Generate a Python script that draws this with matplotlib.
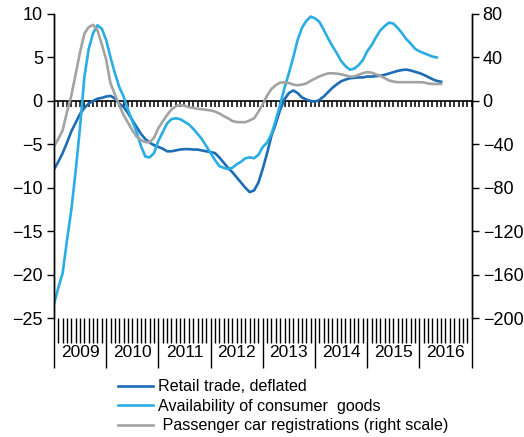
import numpy as np
import matplotlib
matplotlib.use("Agg")
import matplotlib.pyplot as plt
import matplotlib.transforms as mtransforms

plt.rcParams['font.family'] = ['Liberation Sans', 'DejaVu Sans']

years = [2009, 2010, 2011, 2012, 2013, 2014, 2015, 2016]

# monthly values, starting January 2009
retail = [-7.9, -7.0, -6.0, -4.8, -3.5, -2.5, -1.5, -0.8, -0.3, 0.0, 0.25, 0.35,
          0.5, 0.57, 0.3, -0.3, -0.7, -1.4, -2.2, -3.0, -3.8, -4.4, -4.8, -5.1,
          -5.3, -5.5, -5.8, -5.8, -5.7, -5.6, -5.55, -5.55, -5.6, -5.6, -5.7, -5.8,
          -5.9, -6.0, -6.5, -7.1, -7.7, -8.2, -8.8, -9.4, -10.0, -10.5, -10.3, -9.4,
          -7.8, -6.0, -4.0, -2.6, -1.0, 0.2, 0.9, 1.2, 0.9, 0.4, 0.15, 0.0,
          -0.1, 0.1, 0.5, 1.0, 1.5, 1.9, 2.25, 2.45, 2.6, 2.65, 2.7, 2.7,
          2.8, 2.8, 2.85, 2.9, 3.0, 3.15, 3.3, 3.45, 3.55, 3.6, 3.5, 3.35,
          3.2, 3.0, 2.75, 2.5, 2.3, 2.2]

availability = [-23.4, -21.5, -19.8, -16.0, -12.5, -8.0, -3.0, 2.8, 6.0, 7.8, 8.7, 8.3,
                7.0, 5.0, 3.2, 1.6, 0.5, -1.0, -2.3, -3.6, -5.2, -6.4, -6.5, -6.0,
                -4.6, -3.6, -2.6, -2.1, -2.0, -2.1, -2.4, -2.7, -3.2, -3.8, -4.4, -5.2,
                -6.0, -6.8, -7.5, -7.7, -7.85, -7.7, -7.3, -7.0, -6.6, -6.5, -6.6, -6.2,
                -5.3, -4.8, -3.8, -2.2, -0.4, 1.5, 3.2, 5.0, 7.0, 8.4, 9.2, 9.7,
                9.5, 9.1, 8.2, 7.2, 6.3, 5.5, 4.6, 4.0, 3.6, 3.7, 4.1, 4.7,
                5.7, 6.4, 7.3, 8.1, 8.6, 9.0, 8.9, 8.4, 7.8, 7.1, 6.6, 6.0,
                5.7, 5.5, 5.3, 5.1, 5.0]

cars = [-42, -35, -27, -10, 5, 25, 45, 62, 68, 70, 65, 52,
        38, 16, 6, -4, -13, -20, -27, -33, -36, -38, -38, -34,
        -25, -19, -13, -8, -5, -3.7, -4.5, -5.8, -6.5, -7.2, -7.6, -8.2,
        -8.8, -9.8, -11.5, -14, -16, -18.5, -19.5, -19.6, -19.6, -18, -16, -10,
        -3, 5, 11, 14.5, 16.8, 17, 16.5, 15, 14.4, 15, 16, 18.5,
        20.5, 22.5, 24, 25.3, 25.5, 25, 24.5, 23.5, 22.3, 22.5, 24, 25.5,
        26.5, 26, 24.5, 23, 21, 18.8, 17.8, 17.2, 17.2, 17.2, 17.2, 17.2,
        17.2, 17, 16, 15.6, 15.6, 15.6]

def months(n):
    return [2009 + i / 12 for i in range(n)]

fig = plt.figure(figsize=(5.24, 4.37), dpi=100)
ax = fig.add_axes([0.103, 0.272, 0.797, 0.696])
ax2 = ax.twinx()

l1, = ax.plot(months(len(retail)), retail, color='#1c6cb6', lw=1.9, label='Retail trade, deflated')
l2, = ax.plot(months(len(availability)), availability, color='#29ade4', lw=1.9,
              label='Availability of consumer  goods')
l3, = ax2.plot(months(len(cars)), cars, color='#a3a3a3', lw=1.9,
               label=' Passenger car registrations (right scale)')

# zero line with month ticks
edges = [2009 + i / 12 for i in range(97)]
ax.axhline(0, color='black', lw=1.2, zorder=1)
ax.plot(edges, [0] * len(edges), ls='none', marker=3, ms=4, mew=1.1, color='black', zorder=1)

ax.set_xlim(2009, 2017)
ax.set_ylim(-25, 10)
ax2.set_ylim(-200, 80)
ax.set_yticks(range(-25, 11, 5))
ax2.set_yticks(range(-200, 81, 40))

ax.set_xticks(range(2009, 2018))
ax.set_xticklabels([])
ax.set_xticks(edges, minor=True)
ax.tick_params(axis='x', which='major', length=36, width=1, direction='out')
ax.tick_params(axis='x', which='minor', length=18, width=1, direction='out')
ax.tick_params(axis='y', labelsize=13, length=5, width=1, direction='out', pad=3)
ax2.tick_params(axis='y', labelsize=13, length=5, width=1, direction='out', pad=3)

for a in (ax, ax2):
    a.spines['top'].set_visible(False)
    a.spines['bottom'].set_visible(False)
    a.spines['left'].set_linewidth(1)
    a.spines['right'].set_linewidth(1)
ax2.xaxis.set_visible(False)

trans = mtransforms.blended_transform_factory(ax.transData, ax.transAxes)
for y in years:
    ax.text(y + 0.5, -0.112, str(y), transform=trans, ha='center', va='center', fontsize=12.5)

fig.legend(handles=[l1, l2, l3], loc='upper left', bbox_to_anchor=(0.212, 0.147),
           frameon=False, fontsize=11.6, handlelength=2.2, handletextpad=0.3,
           labelspacing=0.28, borderaxespad=0)

fig.savefig('out.png', dpi=100)
